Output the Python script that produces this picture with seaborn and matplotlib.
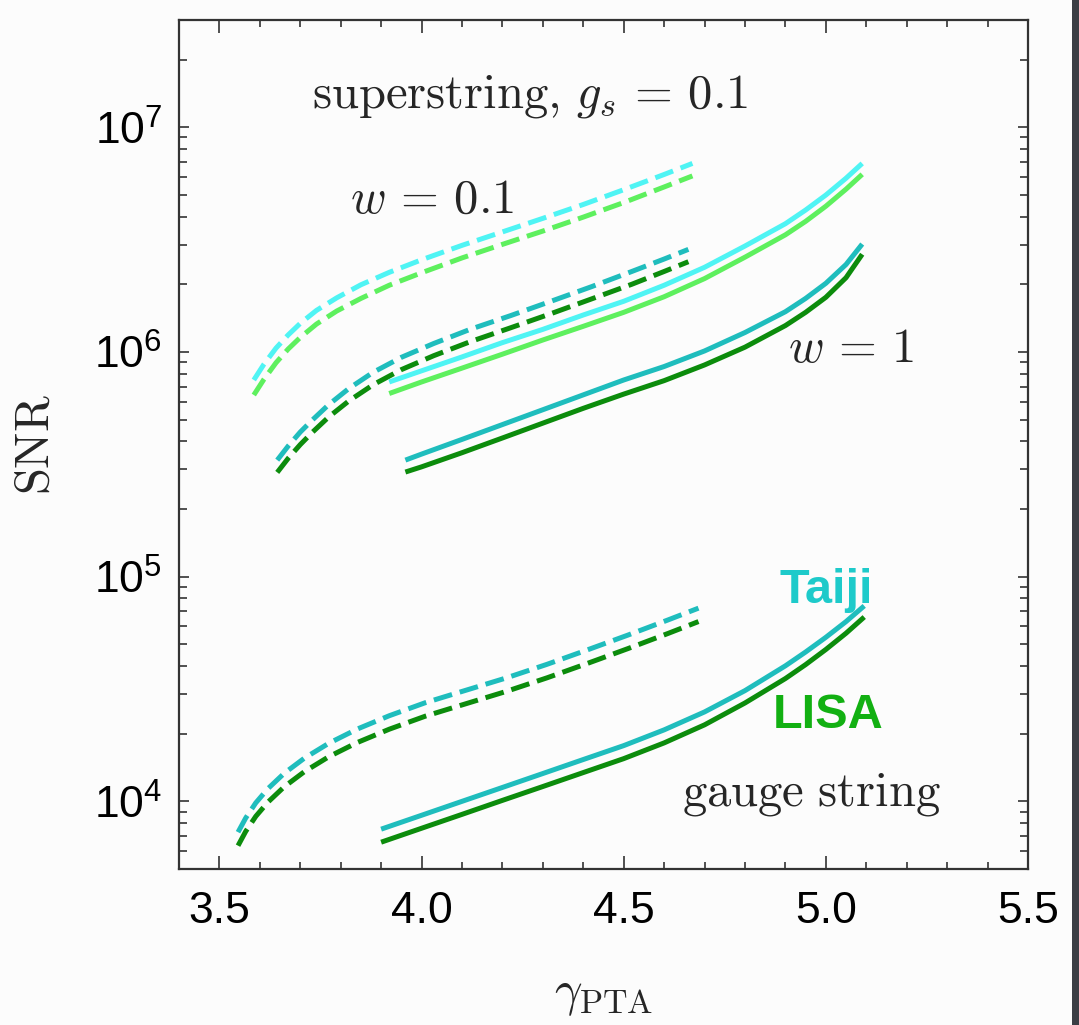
import numpy as np
import pandas as pd
import matplotlib
matplotlib.use("Agg")
import matplotlib.pyplot as plt
import matplotlib.ticker as mticker
from matplotlib.patches import Rectangle
import seaborn as sns

# ── Data ─────────────────────────────────────────────────────────────────────
# superstring, dashed, upper pair (w = 0.1)
gamma_ss_dash_top = [3.585, 3.61, 3.64, 3.67, 3.70, 3.74, 3.79, 3.85, 3.92, 4.0,
                     4.1, 4.2, 4.3, 4.4, 4.5, 4.6, 4.67]
taiji_ss_dash_top = [7.50e5, 8.81e5, 1.04e6, 1.19e6, 1.34e6, 1.53e6, 1.74e6, 1.99e6, 2.26e6, 2.57e6,
                     2.98e6, 3.42e6, 3.93e6, 4.53e6, 5.27e6, 6.16e6, 6.90e6]
lisa_ss_dash_top  = [6.43e5, 7.55e5, 8.95e5, 1.03e6, 1.16e6, 1.33e6, 1.52e6, 1.73e6, 1.98e6, 2.25e6,
                     2.62e6, 3.01e6, 3.45e6, 3.98e6, 4.62e6, 5.42e6, 6.07e6]

# superstring, dashed, lower pair
gamma_ss_dash_mid = [3.643, 3.67, 3.70, 3.73, 3.77, 3.82, 3.88, 3.95, 4.03, 4.12,
                     4.22, 4.32, 4.42, 4.52, 4.60, 4.66]
taiji_ss_dash_mid = [3.30e5, 3.81e5, 4.40e5, 4.98e5, 5.82e5, 6.87e5, 8.11e5, 9.46e5, 1.09e6, 1.26e6,
                     1.45e6, 1.68e6, 1.95e6, 2.28e6, 2.59e6, 2.86e6]
lisa_ss_dash_mid  = [2.91e5, 3.36e5, 3.87e5, 4.39e5, 5.13e5, 6.05e5, 7.14e5, 8.34e5, 9.62e5, 1.11e6,
                     1.28e6, 1.48e6, 1.72e6, 2.00e6, 2.28e6, 2.52e6]

# superstring, solid, upper pair
gamma_ss_solid_top = [3.92, 4.0, 4.1, 4.2, 4.3, 4.4, 4.5, 4.6, 4.7, 4.8,
                      4.9, 4.95, 5.0, 5.05, 5.09]
taiji_ss_solid_top = [7.35e5, 8.24e5, 9.50e5, 1.10e6, 1.26e6, 1.46e6, 1.68e6, 1.98e6, 2.38e6, 2.96e6,
                      3.72e6, 4.28e6, 4.99e6, 5.93e6, 6.90e6]
lisa_ss_solid_top  = [6.53e5, 7.35e5, 8.47e5, 9.77e5, 1.13e6, 1.30e6, 1.50e6, 1.76e6, 2.12e6, 2.64e6,
                      3.32e6, 3.81e6, 4.45e6, 5.30e6, 6.17e6]

# superstring, solid, lower pair (w = 1)
gamma_ss_solid_low = [3.96, 4.0, 4.1, 4.2, 4.3, 4.4, 4.5, 4.6, 4.7, 4.8,
                      4.9, 4.95, 5.0, 5.05, 5.09]
taiji_ss_solid_low = [3.30e5, 3.51e5, 4.08e5, 4.75e5, 5.53e5, 6.44e5, 7.50e5, 8.61e5, 1.01e6, 1.22e6,
                      1.51e6, 1.73e6, 2.02e6, 2.45e6, 3.02e6]
lisa_ss_solid_low  = [2.92e5, 3.08e5, 3.56e5, 4.14e5, 4.82e5, 5.61e5, 6.49e5, 7.45e5, 8.75e5, 1.05e6,
                      1.31e6, 1.50e6, 1.75e6, 2.14e6, 2.72e6]

# gauge string, dashed
gamma_gs_dash = [3.546, 3.565, 3.59, 3.62, 3.66, 3.71, 3.77, 3.84, 3.92, 4.01,
                 4.11, 4.21, 4.31, 4.41, 4.51, 4.61, 4.685]
taiji_gs_dash = [7.29e3, 8.43e3, 9.85e3, 1.139e4, 1.332e4, 1.556e4, 1.811e4, 2.094e4, 2.404e4, 2.751e4,
                 3.123e4, 3.544e4, 4.07e4, 4.72e4, 5.49e4, 6.42e4, 7.24e4]
lisa_gs_dash  = [6.35e3, 7.35e3, 8.58e3, 9.92e3, 1.160e4, 1.355e4, 1.578e4, 1.824e4, 2.094e4, 2.396e4,
                 2.72e4, 3.087e4, 3.544e4, 4.108e4, 4.78e4, 5.59e4, 6.31e4]

# gauge string, solid
gamma_gs_solid = [3.9, 4.0, 4.1, 4.2, 4.3, 4.4, 4.5, 4.6, 4.7, 4.8,
                  4.9, 4.95, 5.0, 5.05, 5.095]
taiji_gs_solid = [7.52e3, 8.67e3, 1.0e4, 1.153e4, 1.33e4, 1.535e4, 1.77e4, 2.08e4, 2.50e4, 3.11e4,
                  4.01e4, 4.62e4, 5.37e4, 6.31e4, 7.41e4]
lisa_gs_solid  = [6.58e3, 7.59e3, 8.75e3, 1.01e4, 1.164e4, 1.343e4, 1.549e4, 1.82e4, 2.19e4, 2.74e4,
                  3.52e4, 4.06e4, 4.74e4, 5.60e4, 6.61e4]

x_ticks = [3.5, 4.0, 4.5, 5.0, 5.5]

# ── Style ────────────────────────────────────────────────────────────────────
sns.set_theme(style="ticks")
plt.rcParams["font.family"] = ["Liberation Sans", "DejaVu Sans"]
plt.rcParams["mathtext.fontset"] = "cm"
plt.rcParams["axes.unicode_minus"] = False

BG = "#fcfcfc"
cyan_l, green_l = "#4ff4f4", "#5ef05e"
cyan_d, green_d = "#1fbdbd", "#0c8c0c"
DASH = (0, (3.8, 1.6))

curves = [
    (gamma_ss_dash_top, taiji_ss_dash_top, cyan_l, DASH),
    (gamma_ss_dash_top, lisa_ss_dash_top, green_l, DASH),
    (gamma_ss_dash_mid, taiji_ss_dash_mid, cyan_d, DASH),
    (gamma_ss_dash_mid, lisa_ss_dash_mid, green_d, DASH),
    (gamma_ss_solid_top, taiji_ss_solid_top, cyan_l, "-"),
    (gamma_ss_solid_top, lisa_ss_solid_top, green_l, "-"),
    (gamma_ss_solid_low, taiji_ss_solid_low, cyan_d, "-"),
    (gamma_ss_solid_low, lisa_ss_solid_low, green_d, "-"),
    (gamma_gs_dash, taiji_gs_dash, cyan_d, DASH),
    (gamma_gs_dash, lisa_gs_dash, green_d, DASH),
    (gamma_gs_solid, taiji_gs_solid, cyan_d, "-"),
    (gamma_gs_solid, lisa_gs_solid, green_d, "-"),
]

fig = plt.figure(figsize=(10.79, 10.25), dpi=100, facecolor=BG)
ax = fig.add_axes([0.1659, 0.1522, 0.7868, 0.8283])
ax.set_facecolor(BG)

for gx, sy, col, ls in curves:
    df = pd.DataFrame({"gamma": gx, "snr": sy})
    sns.lineplot(data=df, x="gamma", y="snr", ax=ax, color=col, lw=3.6,
                 linestyle=ls, estimator=None, sort=False,
                 solid_capstyle="butt", dash_capstyle="butt",
                 solid_joinstyle="round")

ax.set_yscale("log")
ax.set_xlim(3.4, 5.5)
ax.set_ylim(5e3, 3e7)

# ── Ticks & spines ───────────────────────────────────────────────────────────
ax.set_xticks(x_ticks)
ax.xaxis.set_minor_locator(mticker.MultipleLocator(0.1))
ax.xaxis.set_major_formatter(mticker.FormatStrFormatter("%.1f"))
ax.yaxis.set_major_locator(mticker.LogLocator(base=10, numticks=20))
ax.yaxis.set_minor_locator(mticker.LogLocator(base=10, subs=np.arange(2, 10), numticks=20))
ax.yaxis.set_minor_formatter(mticker.NullFormatter())

ax.tick_params(which="both", direction="in", top=True, right=True,
               color="#333333", width=1.2, labelsize=32, labelcolor="black")
ax.tick_params(axis="x", which="major", length=9.5, pad=16)
ax.tick_params(axis="x", which="minor", length=5)
ax.tick_params(axis="y", which="major", length=7, pad=12)
ax.tick_params(axis="y", which="minor", length=5.5)

for sp in ax.spines.values():
    sp.set_color("#333333")
    sp.set_linewidth(1.6)

ax.set_xlabel(r"$\gamma_{\rm PTA}$", fontsize=35)
ax.set_ylabel(r"$\mathrm{SNR}$", fontsize=35)
ax.xaxis.set_label_coords(0.5, -0.122)
ax.yaxis.set_label_coords(-0.142, 0.5)

# ── Annotations ──────────────────────────────────────────────────────────────
ax.text(3.729, 1.23e7, r"$\mathrm{superstring,}\,g_s\,=\,0.1$", fontsize=35,
        ha="left", va="baseline")
ax.text(3.823, 4.15e6, r"$w\,=\,0.1$", fontsize=35, ha="left", va="baseline")
ax.text(4.907, 9.0e5, r"$w\,=\,1$", fontsize=35, ha="left", va="baseline")
ax.text(4.643, 9.6e3, r"$\mathrm{gauge\ string}$", fontsize=35, ha="left", va="baseline")
ax.text(5.0, 7.6e4, "Taiji", fontsize=35, fontweight="bold", color="#1ecaca",
        ha="center", va="baseline")
ax.text(5.006, 2.12e4, "LISA", fontsize=35, fontweight="bold", color="#12b012",
        ha="center", va="baseline")

# dark strip on the right edge of the screenshot
fig.patches.append(Rectangle((0.9935, 0), 0.0065, 1, transform=fig.transFigure,
                             facecolor="#3b3d44", edgecolor="none"))

fig.savefig("out.png", dpi=100, facecolor=BG)
plt.close(fig)
print("[Saved] out.png")
